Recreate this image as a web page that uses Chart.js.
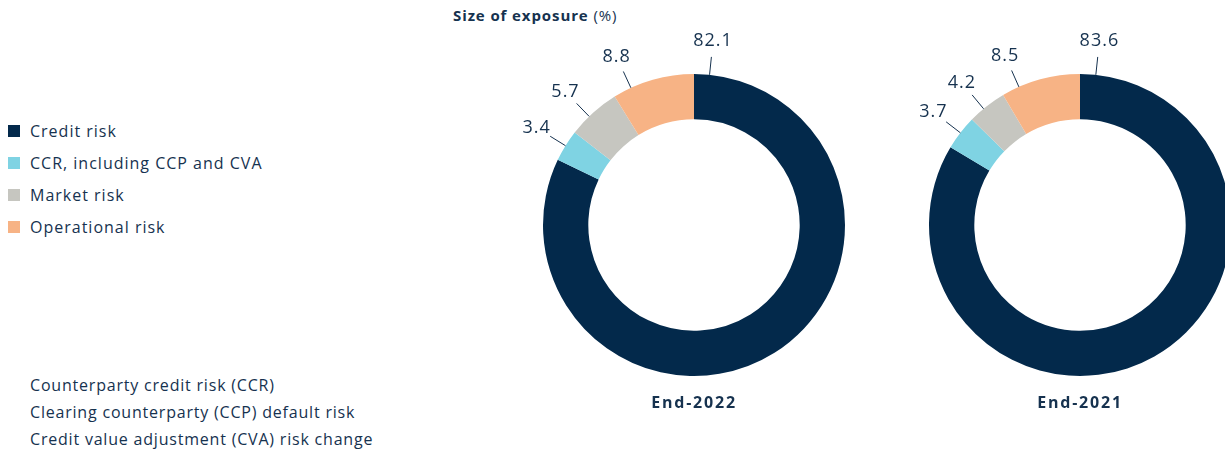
<!DOCTYPE html>
<html>
<head>
<meta charset="utf-8">
<script src="https://cdn.jsdelivr.net/npm/chart.js@4.4.1/dist/chart.umd.min.js"></script>
<style>
  html, body { margin: 0; padding: 0; background: #fff; }
  body { width: 1225px; height: 454px; position: relative; overflow: hidden;
         font-family: "Open Sans", Roboto, sans-serif; color: #16324f; }
  .titulo { position: absolute; left: 453px; top: 5px; font-size: 15px; letter-spacing: 0.9px; }
  .titulo b { font-weight: 700; }
  .leyenda { position: absolute; left: 8px; top: 119px; font-size: 16px; letter-spacing: 1px; }
  .leyenda div { height: 32px; line-height: 24px; display: flex; align-items: flex-start; }
  .leyenda span.cuadro { display: inline-block; width: 12px; height: 12px; margin: 6px 10px 0 0; }
  .notas { position: absolute; left: 30px; top: 372px; font-size: 16px; line-height: 27px; letter-spacing: 0.8px; }
  .wrap { position: absolute; top: 25px; width: 400px; height: 400px; }
  .anio { position: absolute; top: 391px; font-size: 16px; font-weight: 700; width: 200px; text-align: center; letter-spacing: 1.8px; }
</style>
</head>
<body>
<div class="titulo"><b>Size of exposure</b> (%)</div>
<div class="leyenda" id="leyenda"></div>
<div class="notas">
  Counterparty credit risk (CCR)<br>
  Clearing counterparty (CCP) default risk<br>
  Credit value adjustment (CVA) risk change
</div>
<div class="wrap" style="left:494px"><canvas id="chart2022"></canvas></div>
<div class="wrap" style="left:880px"><canvas id="chart2021"></canvas></div>
<div class="anio" style="left:594px">End-2022</div>
<div class="anio" style="left:980px">End-2021</div>

<script>
// Datos
const categorias = ['Credit risk', 'CCR, including CCP and CVA', 'Market risk', 'Operational risk'];
const valores2022 = [82.1, 3.4, 5.7, 8.8];
const valores2021 = [83.6, 3.7, 4.2, 8.5];
const colores = ['#03294b', '#7fd3e3', '#c6c6c0', '#f7b385'];

// Leyenda
const leyenda = document.getElementById('leyenda');
categorias.forEach((cat, i) => {
    const fila = document.createElement('div');
    fila.innerHTML = `<span class="cuadro" style="background:${colores[i]}"></span><span>${cat}</span>`;
    leyenda.appendChild(fila);
});

// Etiquetas con linea guia
const etiquetasPlugin = {
    id: 'etiquetas',
    afterDatasetsDraw(chart, args, opts) {
        const ctx = chart.ctx;
        const meta = chart.getDatasetMeta(0);
        const datos = chart.data.datasets[0].data;
        ctx.save();
        ctx.strokeStyle = '#16324f';
        ctx.lineWidth = 1;
        ctx.fillStyle = '#16324f';
        ctx.font = '18px "Open Sans", Roboto, sans-serif';
        ctx.textAlign = 'center';
        ctx.textBaseline = 'middle';
        if ('letterSpacing' in ctx) ctx.letterSpacing = '1px';
        meta.data.forEach((arc, i) => {
            const p = arc.getProps(['x', 'y', 'startAngle', 'endAngle', 'outerRadius'], true);
            const f = opts.fracciones[i];
            const a = p.startAngle + f * (p.endAngle - p.startAngle);
            const r0 = p.outerRadius, r1 = p.outerRadius + 18, r2 = p.outerRadius + 34;
            ctx.beginPath();
            ctx.moveTo(p.x + r0 * Math.cos(a), p.y + r0 * Math.sin(a));
            ctx.lineTo(p.x + r1 * Math.cos(a), p.y + r1 * Math.sin(a));
            ctx.stroke();
            ctx.fillText(datos[i].toFixed(1), p.x + r2 * Math.cos(a), p.y + r2 * Math.sin(a));
        });
        ctx.restore();
    }
};

function crearDona(id, valores) {
    new Chart(document.getElementById(id), {
        type: 'doughnut',
        data: {
            labels: categorias,
            datasets: [{
                data: valores,
                backgroundColor: colores,
                borderWidth: 0
            }]
        },
        options: {
            responsive: true,
            maintainAspectRatio: false,
            animation: false,
            cutout: '70%',
            layout: { padding: 49 },
            plugins: {
                legend: { display: false },
                tooltip: { enabled: false },
                etiquetas: { fracciones: [0.02, 0.5, 0.4, 0.22] }
            }
        },
        plugins: [etiquetasPlugin]
    });
}

crearDona('chart2022', valores2022);
crearDona('chart2021', valores2021);
</script>
</body>
</html>
